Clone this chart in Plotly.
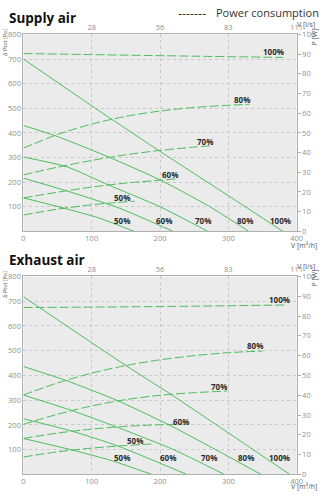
import plotly.graph_objects as go

# ---- axis ticks -------------------------------------------------------------
flow_ticks = [0, 100, 200, 300, 400]          # V [m3/h]
flow_ls_ticks = [100, 200, 300, 400]
flow_ls_text = ["28", "56", "83", "111"]       # V [l/s]
pressure_ticks = [100, 200, 300, 400, 500, 600, 700, 800]   # dPtot [Pa]
power_ticks = [0, 10, 20, 30, 40, 50, 60, 70, 80, 90, 100]   # P [W]
speeds = ["50%", "60%", "70%", "80%", "100%"]

# ---- Supply air: pressure curves (flow m3/h, pressure Pa) --------------------
sup_p50_x = [0, 57, 110, 162]
sup_p50_y = [136, 96, 55, 0]
sup_p60_x = [0, 64, 140, 219]
sup_p60_y = [216, 164, 95, 0]
sup_p70_x = [0, 64, 124, 200, 270]
sup_p70_y = [302, 262, 189, 100, 0]
sup_p80_x = [0, 48, 124, 200, 270, 330]
sup_p80_y = [430, 387, 303, 209, 105, 0]
sup_p100_x = [0, 100, 200, 300, 380]
sup_p100_y = [700, 510, 325, 145, 0]

# ---- Supply air: power curves (flow m3/h, power W) ---------------------------
sup_w50_x = [0, 50, 100, 130, 163]
sup_w50_y = [8.3, 11.3, 13.5, 14.5, 15.3]
sup_w60_x = [0, 50, 100, 150, 200, 223]
sup_w60_y = [17.0, 19.9, 22.5, 24.5, 26.0, 26.6]
sup_w70_x = [0, 50, 100, 150, 200, 250, 276]
sup_w70_y = [28.7, 32.6, 36.0, 38.9, 41.1, 42.8, 43.5]
sup_w80_x = [0, 50, 100, 150, 200, 250, 300, 331]
sup_w80_y = [42.3, 49.2, 54.5, 58.4, 61.1, 62.9, 64.0, 64.5]
sup_w100_x = [0, 200, 380]
sup_w100_y = [90.3, 89.2, 88.3]

# ---- Exhaust air: pressure curves --------------------------------------------
exh_p50_x = [0, 71, 130, 188]
exh_p50_y = [145, 99, 55, 0]
exh_p60_x = [0, 71, 138, 239]
exh_p60_y = [225, 175, 115, 0]
exh_p70_x = [0, 71, 138, 220, 294]
exh_p70_y = [321, 258, 190, 100, 0]
exh_p80_x = [0, 62, 138, 219, 348]
exh_p80_y = [436, 380, 298, 192, 0]
exh_p100_x = [0, 150, 214, 300, 390]
exh_p100_y = [718, 440, 327, 168, 0]

# ---- Exhaust air: power curves -----------------------------------------------
exh_w50_x = [0, 50, 100, 150, 190]
exh_w50_y = [8.8, 11.4, 13.3, 14.6, 15.4]
exh_w60_x = [0, 50, 100, 150, 200, 240]
exh_w60_y = [18.2, 20.9, 22.9, 24.3, 25.1, 25.4]
exh_w70_x = [0, 50, 100, 150, 200, 250, 298]
exh_w70_y = [25.3, 30.4, 34.6, 37.8, 40.0, 41.3, 42.1]
exh_w80_x = [0, 50, 100, 150, 200, 250, 300, 350]
exh_w80_y = [40.2, 46.2, 51.2, 55.0, 57.9, 60.0, 61.5, 62.3]
exh_w100_x = [0, 200, 386]
exh_w100_y = [84.3, 84.8, 85.6]

# ---- curve label anchors (flow m3/h, Pa on the left scale) --------------------
sup_wlabel_x = [144, 215, 266, 320, 366]
sup_wlabel_y = [136, 229, 367, 535, 731]
sup_plabel_x = [145, 206, 263, 325, 376]
sup_plabel_y = 43
exh_wlabel_x = [163, 230, 286, 339, 375]
exh_wlabel_y = [139, 215, 354, 519, 705]
exh_plabel_x = [144, 212, 271, 326, 375]
exh_plabel_y = 69

W, H = 327, 500
GREEN = "#4cbd5d"
GREEN_D = "#4cbb5c"
TICK_GRAY = "#8f8f8f"
AXIS_GRAY = "#b0b0b0"
FONT = "Open Sans"


def px_x(p):
    return p / W


def px_y(p):
    return 1 - p / H


fig = go.Figure()

charts = [
    dict(
        ax=("x", "y", "y2"),
        pressure=[(sup_p50_x, sup_p50_y), (sup_p60_x, sup_p60_y), (sup_p70_x, sup_p70_y),
                  (sup_p80_x, sup_p80_y), (sup_p100_x, sup_p100_y)],
        power=[(sup_w50_x, sup_w50_y), (sup_w60_x, sup_w60_y), (sup_w70_x, sup_w70_y),
               (sup_w80_x, sup_w80_y), (sup_w100_x, sup_w100_y)],
        wl=(sup_wlabel_x, sup_wlabel_y),
        pl=(sup_plabel_x, sup_plabel_y),
    ),
    dict(
        ax=("x3", "y3", "y4"),
        pressure=[(exh_p50_x, exh_p50_y), (exh_p60_x, exh_p60_y), (exh_p70_x, exh_p70_y),
                  (exh_p80_x, exh_p80_y), (exh_p100_x, exh_p100_y)],
        power=[(exh_w50_x, exh_w50_y), (exh_w60_x, exh_w60_y), (exh_w70_x, exh_w70_y),
               (exh_w80_x, exh_w80_y), (exh_w100_x, exh_w100_y)],
        wl=(exh_wlabel_x, exh_wlabel_y),
        pl=(exh_plabel_x, exh_plabel_y),
    ),
]

for ch in charts:
    xa, ya, ya2 = ch["ax"]
    for (xs, ys), sp in zip(ch["pressure"], speeds):
        fig.add_trace(go.Scatter(x=xs, y=ys, mode="lines", xaxis=xa, yaxis=ya,
                                 line=dict(color=GREEN, width=1, shape="spline", smoothing=0.6),
                                 name=sp, showlegend=False, hoverinfo="skip"))
    for (xs, ys), sp in zip(ch["power"], speeds):
        fig.add_trace(go.Scatter(x=xs, y=ys, mode="lines", xaxis=xa, yaxis=ya2,
                                 line=dict(color=GREEN_D, width=1, dash="9px,3px",
                                           shape="spline", smoothing=0.8),
                                 name=sp, showlegend=False, hoverinfo="skip"))
    lab_font = dict(family=FONT, size=8, color="#2b2b2b", weight="bold")
    for x, y, sp in zip(ch["wl"][0], ch["wl"][1], speeds):
        fig.add_annotation(x=x, y=y, xref=xa, yref=ya, text=sp, showarrow=False,
                           font=lab_font, xanchor="center", yanchor="middle")
    for x, sp in zip(ch["pl"][0], speeds):
        fig.add_annotation(x=x, y=ch["pl"][1], xref=xa, yref=ya, text=sp, showarrow=False,
                           font=lab_font, xanchor="center", yanchor="middle")

tick_font = dict(family=FONT, size=7.5, color=TICK_GRAY)


def x_bottom(dom, anchor):
    return dict(domain=dom, range=[0, 400], anchor=anchor, tickvals=flow_ticks,
                showgrid=True, gridcolor="#c9c9c9", griddash="dot", gridwidth=1,
                zeroline=False, showline=True, linecolor=AXIS_GRAY, linewidth=1,
                ticks="", tickfont=tick_font, fixedrange=True)


def x_top(over, anchor):
    return dict(overlaying=over, side="top", range=[0, 400], anchor=anchor,
                tickvals=flow_ls_ticks, ticktext=flow_ls_text, showgrid=False,
                zeroline=False, showline=True, linecolor=AXIS_GRAY, linewidth=1,
                ticks="", tickfont=tick_font, fixedrange=True)


def y_left(dom, anchor):
    return dict(domain=dom, range=[0, 800], anchor=anchor, tickvals=pressure_ticks,
                showgrid=True, gridcolor="#c9c9c9", griddash="dot", gridwidth=1,
                zeroline=False, showline=True, linecolor=AXIS_GRAY, linewidth=1,
                ticks="", tickfont=tick_font, fixedrange=True)


def y_right(over, anchor):
    return dict(overlaying=over, side="right", range=[0, 100], anchor=anchor,
                tickvals=power_ticks, showgrid=False, zeroline=False, showline=True,
                linecolor=AXIS_GRAY, linewidth=1, ticks="outside", ticklen=3,
                tickcolor=AXIS_GRAY, tickfont=tick_font, fixedrange=True)


xdom = [px_x(22), px_x(302)]
top_dom = [px_y(231), px_y(30)]
bot_dom = [px_y(479), px_y(277)]

fig.update_layout(
    width=W, height=H, autosize=False,
    margin=dict(l=0, r=0, t=0, b=0),
    paper_bgcolor="white", plot_bgcolor="#ebebeb",
    showlegend=False,
    xaxis=x_bottom(xdom, "y"),
    xaxis2=x_top("x", "y"),
    yaxis=y_left(top_dom, "x"),
    yaxis2=y_right("y", "x"),
    xaxis3=x_bottom(xdom, "y3"),
    xaxis4=x_top("x3", "y3"),
    yaxis3=y_left(bot_dom, "x3"),
    yaxis4=y_right("y3", "x3"),
)

# keep the top (l/s) axes alive with an invisible trace each
for xa, ya in (("x2", "y"), ("x4", "y3")):
    fig.add_trace(go.Scatter(x=[0, 400], y=[None, None], xaxis=xa, yaxis=ya,
                             mode="lines", showlegend=False, hoverinfo="skip"))

title_font = dict(family=FONT, size=13.5, color="#111111", weight="bold")
unit_font = dict(family=FONT, size=7, color="#555555")
for name, ty, vy, py, my, dy in (("Supply air", 13, 20, 33, 245, 38),
                                  ("Exhaust air", 260, 267, 279, 491, 285)):
    fig.add_annotation(x=px_x(5), y=px_y(ty), xref="paper", yref="paper", text=name,
                       showarrow=False, font=title_font, xanchor="left", yanchor="middle")
    fig.add_annotation(x=px_x(323), y=px_y(vy), xref="paper", yref="paper", text="V [l/s]",
                       showarrow=False, font=unit_font, xanchor="right", yanchor="middle")
    fig.add_annotation(x=px_x(320), y=px_y(py), xref="paper", yref="paper", text="P [W]",
                       showarrow=False, font=unit_font, textangle=-90,
                       xanchor="center", yanchor="middle")
    fig.add_annotation(x=px_x(325), y=px_y(my), xref="paper", yref="paper",
                       text="V [m³/h]", showarrow=False, font=unit_font,
                       xanchor="right", yanchor="middle")
    fig.add_annotation(x=px_x(3.5), y=px_y(dy), xref="paper", yref="paper",
                       text="Δ Ptot [Pa]", showarrow=False,
                       font=dict(family=FONT, size=5.5, color="#555555"), textangle=-90,
                       xanchor="center", yanchor="middle")

fig.add_annotation(x=px_x(211), y=px_y(9), xref="paper", yref="paper", text="-------",
                   showarrow=False, font=dict(family=FONT, size=12.5, color="#333333"),
                   xanchor="right", yanchor="middle")
fig.add_annotation(x=px_x(217), y=px_y(8), xref="paper", yref="paper",
                   text="Power consumption", showarrow=False,
                   font=dict(family=FONT, size=11, color="#333333"),
                   xanchor="left", yanchor="middle")

fig.write_html("out.html")
